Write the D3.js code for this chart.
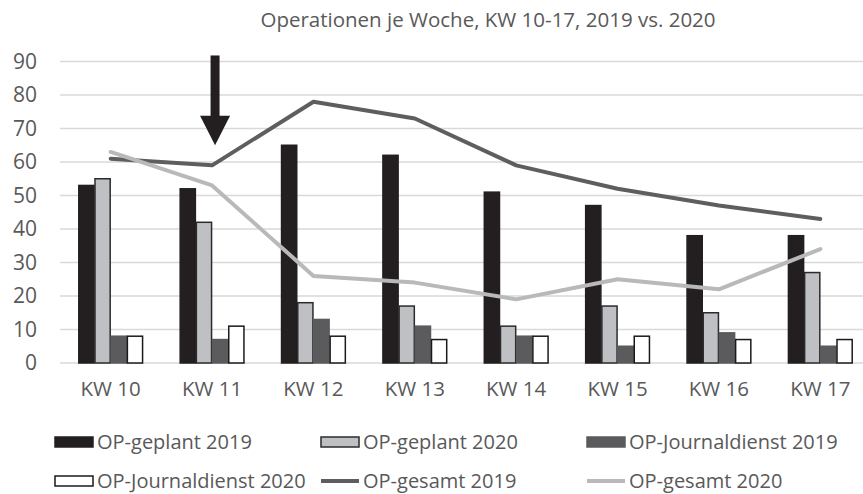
<!DOCTYPE html>
<html>
<head>
<meta charset="utf-8">
<script src="https://cdn.jsdelivr.net/npm/d3@7"></script>
<style>
body { margin: 0; background: #fff; }
text { font-family: "Open Sans", "Noto Sans", sans-serif; fill: #595959; }
</style>
</head>
<body>
<div id="chart"></div>
<script>
var weeks = ['KW 10','KW 11','KW 12','KW 13','KW 14','KW 15','KW 16','KW 17']
var geplant2019 = [53, 52, 65, 62, 51, 47, 38, 38]
var geplant2020 = [55, 42, 18, 17, 11, 17, 15, 27]
var journal2019 = [8, 7, 13, 11, 8, 5, 9, 5]
var journal2020 = [8, 11, 8, 7, 8, 8, 7, 7]
var gesamt2019 = [61, 59, 78, 73, 59, 52, 47, 43]
var gesamt2020 = [63, 53, 26, 24, 19, 25, 22, 34]
var yTicks = [0, 10, 20, 30, 40, 50, 60, 70, 80, 90]
var title = 'Operationen je Woche, KW 10-17, 2019 vs. 2020'

var barSeries = [
    {name: 'OP-geplant 2019', values: geplant2019, fill: '#231f20', stroke: '#231f20'},
    {name: 'OP-geplant 2020', values: geplant2020, fill: '#bfc0c3', stroke: '#2b2b2b'},
    {name: 'OP-Journaldienst 2019', values: journal2019, fill: '#5b5b5d', stroke: '#5b5b5d'},
    {name: 'OP-Journaldienst 2020', values: journal2020, fill: '#ffffff', stroke: '#1a1a1a'}
]
var lineSeries = [
    {name: 'OP-gesamt 2019', values: gesamt2019, color: '#5e5e60'},
    {name: 'OP-gesamt 2020', values: gesamt2020, color: '#b9b9bb'}
]

var svg = d3.select('#chart')
            .append('svg')
            .attr('width', 863)
            .attr('height', 494)

var x = d3.scaleBand()
    .domain(weeks)
    .range([60, 871])
var x1 = d3.scaleBand()
    .domain(barSeries.map(function(s){ return s.name }))
    .range([0, x.bandwidth()])
    .paddingOuter(1.13)
var y = d3.scaleLinear()
    .domain([0, 90])
    .range([363, 61.5])

svg.append('text')
    .attr('x', 488)
    .attr('y', 27)
    .attr('text-anchor', 'middle')
    .style('font-size', '20.5px')
    .text(title)

// gridlines
svg.append('g')
    .selectAll('line')
    .data(yTicks)
    .enter().append('line')
    .attr('x1', 60)
    .attr('x2', 871)
    .attr('y1', function(d){ return y(d) })
    .attr('y2', function(d){ return y(d) })
    .attr('stroke', '#d9d9d9')
    .attr('stroke-width', 1.5)

// y axis labels
var yAxis = d3.axisLeft(y).tickValues(yTicks).tickSize(0).tickPadding(0)
var gy = svg.append('g').attr('transform', 'translate(37,0)').call(yAxis)
gy.select('.domain').remove()
gy.selectAll('text')
    .style('font-size', '21px')
    .style('font-family', '"Open Sans", "Noto Sans", sans-serif')
    .attr('fill', '#595959')

// x axis labels
var xAxis = d3.axisBottom(x).tickSize(0).tickPadding(0)
var gx = svg.append('g').attr('transform', 'translate(0,381)').call(xAxis)
gx.select('.domain').remove()
gx.selectAll('text')
    .style('font-size', '20.5px')
    .style('font-family', '"Open Sans", "Noto Sans", sans-serif')
    .attr('fill', '#595959')

// bars
barSeries.forEach(function(s){
    svg.append('g')
        .selectAll('rect')
        .data(s.values)
        .enter().append('rect')
        .attr('x', function(d, i){ return x(weeks[i]) + x1(s.name) + 0.5 })
        .attr('y', function(d){ return y(d) })
        .attr('width', x1.bandwidth() - 1)
        .attr('height', function(d){ return y(0) - y(d) })
        .attr('fill', s.fill)
        .attr('stroke', s.stroke)
        .attr('stroke-width', 1.5)
})

// lines
var line = d3.line()
    .x(function(d, i){ return x(weeks[i]) + x.bandwidth() / 2 })
    .y(function(d){ return y(d) })
lineSeries.forEach(function(s){
    svg.append('path')
        .datum(s.values)
        .attr('d', line)
        .attr('fill', 'none')
        .attr('stroke', s.color)
        .attr('stroke-width', 4)
        .attr('stroke-linecap', 'round')
        .attr('stroke-linejoin', 'round')
})

// arrow over KW 11
var ax = x('KW 11') + x.bandwidth() / 2 + 3
svg.append('rect')
    .attr('x', ax - 4.5)
    .attr('y', y(91.8))
    .attr('width', 9)
    .attr('height', y(73.6) - y(91.8))
    .attr('fill', '#231f20')
svg.append('path')
    .attr('d', 'M' + (ax - 15) + ',' + y(73.8) + 'L' + (ax + 15) + ',' + y(73.8) + 'L' + ax + ',' + y(65) + 'Z')
    .attr('fill', '#231f20')

// legend
var legendItems = [
    {name: barSeries[0].name, type: 'bar', s: barSeries[0], col: 0, row: 0},
    {name: barSeries[1].name, type: 'bar', s: barSeries[1], col: 1, row: 0},
    {name: barSeries[2].name, type: 'bar', s: barSeries[2], col: 2, row: 0},
    {name: barSeries[3].name, type: 'bar', s: barSeries[3], col: 0, row: 1},
    {name: lineSeries[0].name, type: 'line', s: lineSeries[0], col: 1, row: 1},
    {name: lineSeries[1].name, type: 'line', s: lineSeries[1], col: 2, row: 1}
]
var lg = svg.append('g')
legendItems.forEach(function(it){
    var lx = 55 + it.col * 266
    var ly = 442 + it.row * 39
    if(it.type == 'bar'){
        lg.append('rect')
            .attr('x', lx)
            .attr('y', ly - 5)
            .attr('width', 38)
            .attr('height', 10)
            .attr('fill', it.s.fill)
            .attr('stroke', it.s.stroke)
            .attr('stroke-width', 1.5)
    } else {
        lg.append('line')
            .attr('x1', lx)
            .attr('x2', lx + 38)
            .attr('y1', ly)
            .attr('y2', ly)
            .attr('stroke', it.s.color)
            .attr('stroke-width', 4)
    }
    lg.append('text')
        .attr('x', lx + 42)
        .attr('y', ly)
        .attr('dy', '0.35em')
        .style('font-size', '20px')
        .text(it.name)
})
</script>
</body>
</html>
